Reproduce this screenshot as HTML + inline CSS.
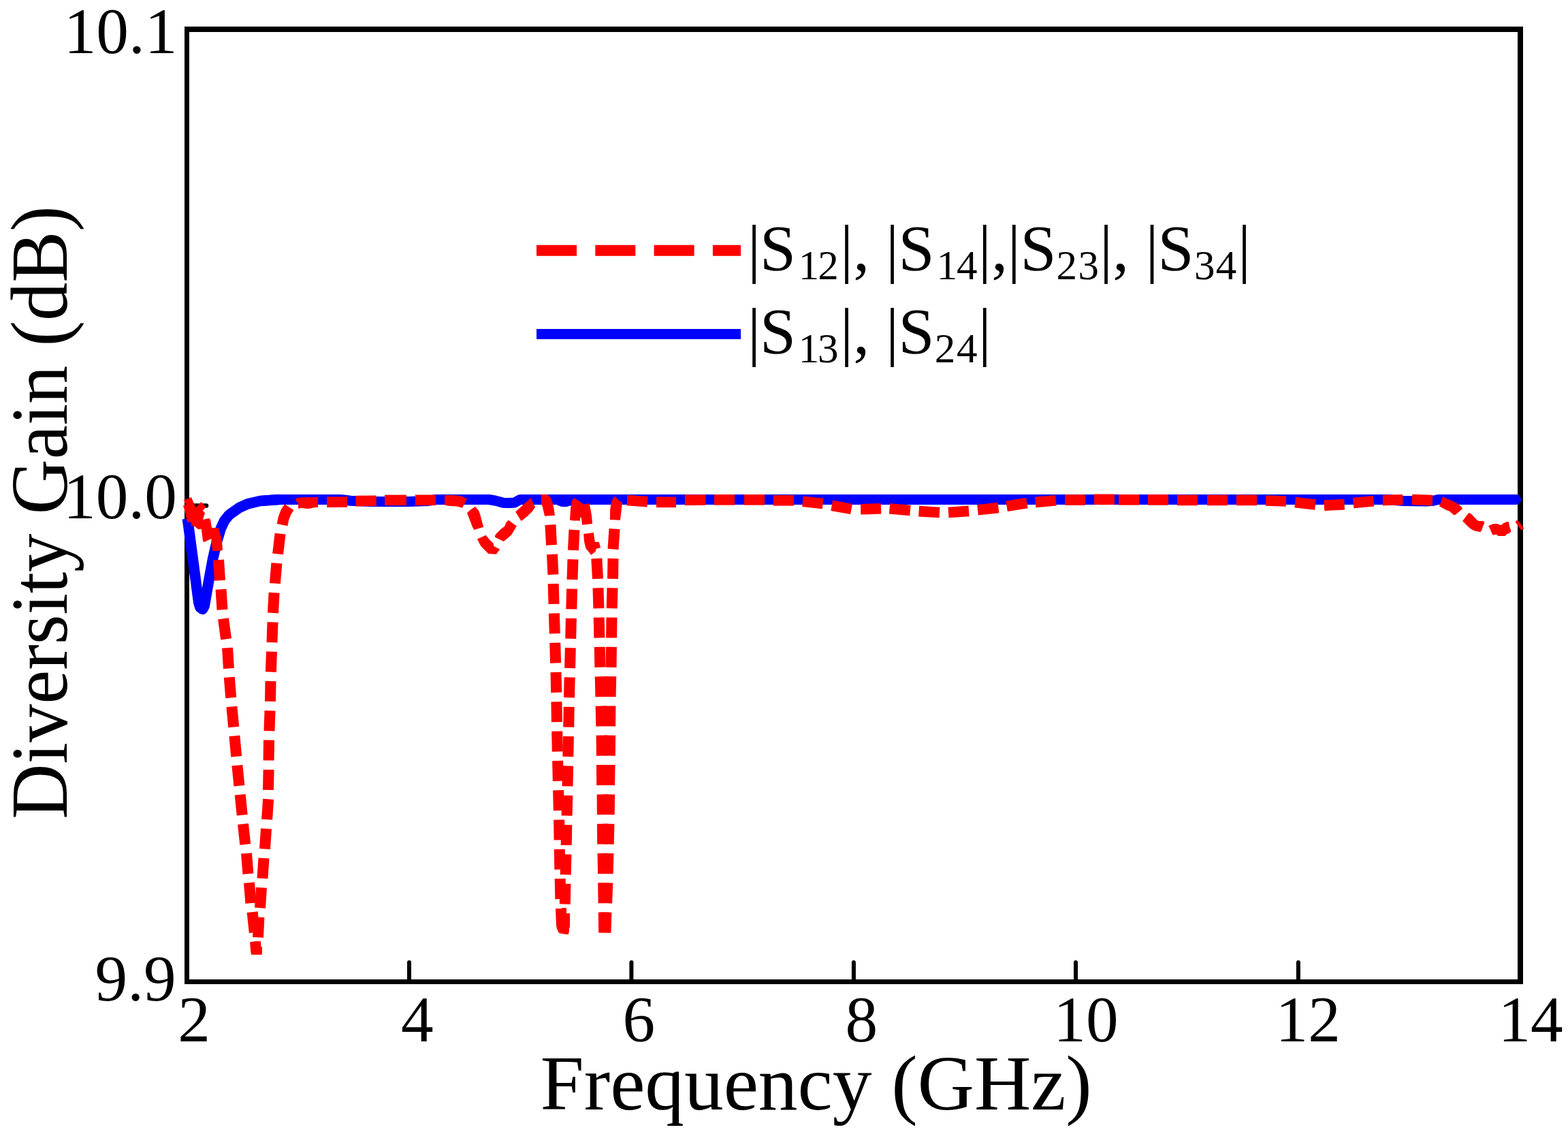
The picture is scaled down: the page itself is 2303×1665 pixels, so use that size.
<!DOCTYPE html>
<html lang="en"><head><meta charset="utf-8"><title>Diversity Gain vs Frequency</title>
<style>html,body{margin:0;padding:0;background:#fff;}body{width:2303px;height:1665px;overflow:hidden;}svg{display:block;}text{font-family:"Liberation Serif","DejaVu Serif",serif;fill:#000;}</style>
</head><body>
<svg width="2303" height="1665" viewBox="0 0 2303 1665">
<rect x="0" y="0" width="2303" height="1665" fill="#ffffff"/>
<g fill="#000" shape-rendering="crispEdges">
<rect x="271" y="39" width="7" height="1406"/>
<rect x="2229" y="39" width="8" height="1406"/>
<rect x="271" y="39" width="1966" height="8"/>
<rect x="271" y="1438" width="1966" height="7"/>
</g>
<g stroke="#000" stroke-width="6" stroke-linecap="round" fill="none">
<line x1="601" y1="1440" x2="601" y2="1413"/>
<line x1="927.4" y1="1440" x2="927.4" y2="1413"/>
<line x1="1253.9" y1="1440" x2="1253.9" y2="1413"/>
<line x1="1580" y1="1440" x2="1580" y2="1413"/>
<line x1="1906.9" y1="1440" x2="1906.9" y2="1413"/>
<line x1="275" y1="742.5" x2="303" y2="742.5" stroke-width="6.5"/>
</g>
<text x="93.70" y="77.80" font-size="95.3">10.1</text>
<text x="93.10" y="760.60" font-size="95.3">10.0</text>
<text x="139.60" y="1468.80" font-size="95.3">9.9</text>
<text x="261.30" y="1528.90" font-size="95.3">2</text>
<text x="589.10" y="1528.90" font-size="95.3">4</text>
<text x="914.40" y="1528.90" font-size="95.3">6</text>
<text x="1241.60" y="1528.90" font-size="95.3">8</text>
<text x="1547.30" y="1528.90" font-size="95.3">10</text>
<text x="1873.60" y="1528.90" font-size="95.3">12</text>
<text x="2200.40" y="1528.90" font-size="95.3">14</text>
<text transform="translate(793.6 1628.9) scale(1.0074 1)" font-size="114.5">Frequency (GHz)</text>
<text transform="translate(98.1 1202.70) rotate(-90) scale(0.9430 1)" font-size="119.4">Diversity Gain (dB)</text>
<g fill="none" stroke-linecap="butt">
<line x1="788" y1="367.8" x2="1088" y2="367.8" stroke="#ff0000" stroke-width="16" stroke-dasharray="59 27.3"/>
<line x1="788" y1="490.4" x2="1088" y2="490.4" stroke="#0000ff" stroke-width="15"/>
</g>
<text xml:space="preserve"><tspan x="1098.03" y="397.00" font-size="95.3">|</tspan><tspan x="1116.12" y="397.00" font-size="95.3">S</tspan><tspan x="1172.64" y="410.00" font-size="61.0">1</tspan><tspan x="1201.32" y="410.00" font-size="61.0">2</tspan><tspan x="1234.03" y="397.00" font-size="95.3">|</tspan><tspan x="1253.17" y="397.00" font-size="95.3">, </tspan><tspan x="1300.93" y="397.00" font-size="95.3">|</tspan><tspan x="1319.62" y="397.00" font-size="95.3">S</tspan><tspan x="1375.64" y="410.00" font-size="61.0">1</tspan><tspan x="1405.01" y="410.00" font-size="61.0">4</tspan><tspan x="1436.83" y="397.00" font-size="95.3">|</tspan><tspan x="1456.37" y="397.00" font-size="95.3">,</tspan><tspan x="1479.83" y="397.00" font-size="95.3">|</tspan><tspan x="1498.62" y="397.00" font-size="95.3">S</tspan><tspan x="1551.62" y="410.00" font-size="61.0">2</tspan><tspan x="1583.48" y="410.00" font-size="61.0">3</tspan><tspan x="1615.03" y="397.00" font-size="95.3">|</tspan><tspan x="1634.17" y="397.00" font-size="95.3">, </tspan><tspan x="1682.43" y="397.00" font-size="95.3">|</tspan><tspan x="1700.62" y="397.00" font-size="95.3">S</tspan><tspan x="1753.88" y="410.00" font-size="61.0">3</tspan><tspan x="1785.81" y="410.00" font-size="61.0">4</tspan><tspan x="1818.03" y="397.00" font-size="95.3">|</tspan></text>
<text xml:space="preserve"><tspan x="1098.03" y="519.00" font-size="95.3">|</tspan><tspan x="1116.12" y="519.00" font-size="95.3">S</tspan><tspan x="1172.64" y="532.00" font-size="61.0">1</tspan><tspan x="1201.08" y="532.00" font-size="61.0">3</tspan><tspan x="1234.03" y="519.00" font-size="95.3">|</tspan><tspan x="1253.17" y="519.00" font-size="95.3">, </tspan><tspan x="1300.93" y="519.00" font-size="95.3">|</tspan><tspan x="1319.62" y="519.00" font-size="95.3">S</tspan><tspan x="1372.82" y="532.00" font-size="61.0">2</tspan><tspan x="1405.01" y="532.00" font-size="61.0">4</tspan><tspan x="1436.83" y="519.00" font-size="95.3">|</tspan></text>
<g id="blue-curve">
<path d="M275.4 761.5 L291.8 885.0 L294.0 892.0 L297.5 894.5 L300.2 889.5 L301.0 885.0 L306.6 853.0 L312.8 819.7 L318.3 796.0 L324.2 776.2 L329.4 764.9 L336.2 756.3 L343.0 751.3 L351.5 745.4 L363.7 739.9 L382.0 735.5 L410.0 733.5" fill="none" stroke="#0000ff" stroke-width="15.6" stroke-linejoin="round" stroke-linecap="butt"/>
<path d="M382.0 735.5 L410.0 733.5 L500.0 733.5 L515.0 735.2 L545.0 736.4 L600.0 736.6 L628.0 735.5 L640.0 733.5 L718.0 733.5 L727.0 735.0 L733.0 736.5 L739.0 738.2 L748.0 738.6 L756.0 738.0 L760.0 735.5 L764.0 733.5 L2040.0 733.5 L2050.0 734.6 L2060.0 735.6 L2095.0 735.9 L2105.0 735.2" fill="none" stroke="#0000ff" stroke-width="15.0" stroke-linejoin="round" stroke-linecap="butt"/>
<path d="M2105.0 735.2 L2112.0 733.5 L2226.5 733.5" fill="none" stroke="#0000ff" stroke-width="15.0" stroke-linejoin="round" stroke-linecap="round"/>
<polygon fill="#0000ff" points="816.0,740.0 818.5,741.6 820.5,742.6 825.0,743.9 833.0,743.9 836.0,742.7 839.0,742.2 841.0,740.0"/>
</g>
<g id="red-curve" fill="#ff0000">
<polygon fill="#ff0000" points="269.9,734.5 280.9,729.9 287.6,745.2 295.5,737.0 302.9,744.3 297.7,749.8 301.0,753.1 298.6,760.7 298.0,762.9 302.2,762.0 307.4,761.0 309.0,763.2 311.1,775.1 320.8,775.1 323.0,782.1 326.0,794.3 326.9,807.7 323.0,808.9 312.0,808.9 310.2,790.9 299.8,796.1 298.0,794.3 295.8,776.6 291.3,777.2 284.6,772.0 280.9,772.0 280.9,767.1 275.1,767.1 273.9,760.7 271.1,749.1 269.0,742.4 273.0,740.9"/>
<path d="M321.0 822.1 L323.0 852.2" fill="none" stroke="#ff0000" stroke-width="16.0" stroke-linecap="butt"/>
<path d="M324.5 865.2 L326.5 895.3" fill="none" stroke="#ff0000" stroke-width="16.0" stroke-linecap="butt"/>
<path d="M328.0 908.3 L332.1 938.4" fill="none" stroke="#ff0000" stroke-width="16.0" stroke-linecap="butt"/>
<path d="M334.0 951.3 L335.9 981.4" fill="none" stroke="#ff0000" stroke-width="16.0" stroke-linecap="butt"/>
<path d="M336.8 994.4 L339.2 1024.5" fill="none" stroke="#ff0000" stroke-width="16.0" stroke-linecap="butt"/>
<path d="M340.4 1037.5 L343.2 1067.6" fill="none" stroke="#ff0000" stroke-width="16.0" stroke-linecap="butt"/>
<path d="M344.4 1080.6 L347.2 1110.7" fill="none" stroke="#ff0000" stroke-width="16.0" stroke-linecap="butt"/>
<path d="M348.4 1123.7 L351.4 1153.8" fill="none" stroke="#ff0000" stroke-width="16.0" stroke-linecap="butt"/>
<path d="M352.7 1166.7 L355.7 1196.8" fill="none" stroke="#ff0000" stroke-width="16.0" stroke-linecap="butt"/>
<path d="M357.0 1209.8 L360.3 1239.9" fill="none" stroke="#ff0000" stroke-width="16.0" stroke-linecap="butt"/>
<path d="M362.0 1252.9 L364.4 1283.0" fill="none" stroke="#ff0000" stroke-width="16.0" stroke-linecap="butt"/>
<path d="M366.0 1296.0 L368.4 1326.1" fill="none" stroke="#ff0000" stroke-width="16.0" stroke-linecap="butt"/>
<path d="M370.6 1339.1 L373.8 1369.2" fill="none" stroke="#ff0000" stroke-width="16.0" stroke-linecap="butt"/>
<path d="M380.4 1346.6 L379.0 1376.4" fill="none" stroke="#ff0000" stroke-width="16.0" stroke-linecap="butt"/>
<path d="M384.0 1303.3 L382.0 1333.1" fill="none" stroke="#ff0000" stroke-width="16.0" stroke-linecap="butt"/>
<path d="M387.5 1260.0 L385.5 1289.8" fill="none" stroke="#ff0000" stroke-width="16.0" stroke-linecap="butt"/>
<path d="M391.0 1216.7 L389.0 1246.5" fill="none" stroke="#ff0000" stroke-width="16.0" stroke-linecap="butt"/>
<path d="M394.1 1173.4 L392.1 1203.2" fill="none" stroke="#ff0000" stroke-width="16.0" stroke-linecap="butt"/>
<path d="M394.6 1130.1 L394.0 1159.9" fill="none" stroke="#ff0000" stroke-width="16.0" stroke-linecap="butt"/>
<path d="M395.0 1086.7 L394.6 1116.5" fill="none" stroke="#ff0000" stroke-width="16.0" stroke-linecap="butt"/>
<path d="M396.5 1043.4 L395.5 1073.2" fill="none" stroke="#ff0000" stroke-width="16.0" stroke-linecap="butt"/>
<path d="M397.5 1000.1 L397.0 1029.9" fill="none" stroke="#ff0000" stroke-width="16.0" stroke-linecap="butt"/>
<path d="M399.0 956.8 L397.9 986.6" fill="none" stroke="#ff0000" stroke-width="16.0" stroke-linecap="butt"/>
<path d="M400.5 913.5 L399.5 943.3" fill="none" stroke="#ff0000" stroke-width="16.0" stroke-linecap="butt"/>
<path d="M402.6 870.2 L401.0 900.0" fill="none" stroke="#ff0000" stroke-width="16.0" stroke-linecap="butt"/>
<path d="M406.4 826.9 L403.9 856.7" fill="none" stroke="#ff0000" stroke-width="16.0" stroke-linecap="butt"/>
<path d="M411.6 783.6 L408.1 813.4" fill="none" stroke="#ff0000" stroke-width="16.0" stroke-linecap="butt"/>
<polygon fill="#ff0000" points="367.1,1383.2 375.1,1382.1 383.1,1382.1 383.1,1389.9 384.9,1390.1 384.9,1400.8 383.9,1401.8 369.1,1401.8 368.1,1396.6"/>
<path d="M414.5 770.6 L416.5 761.0 L420.0 752.0 L424.8 744.7" fill="none" stroke="#ff0000" stroke-width="16.0" stroke-linejoin="round" stroke-linecap="butt"/>
<polygon fill="#ff0000" points="434.0,732.3 436.0,731.3 443.3,730.2 453.7,730.2 467.1,729.7 467.1,744.7 460.9,745.2 454.7,746.8 448.5,746.8 443.3,745.8 438.1,746.8 438.1,739.0 435.0,735.9"/>
<path d="M480.1 737.2 L509.9 737.0" fill="none" stroke="#ff0000" stroke-width="15.6" stroke-linecap="butt"/>
<path d="M522.5 735.6 L552.7 735.3" fill="none" stroke="#ff0000" stroke-width="15.6" stroke-linecap="butt"/>
<path d="M565.1 734.4 L596.9 734.4" fill="none" stroke="#ff0000" stroke-width="15.6" stroke-linecap="butt"/>
<path d="M609.9 734.3 L640.0 734.3" fill="none" stroke="#ff0000" stroke-width="15.6" stroke-linecap="butt"/>
<polygon fill="#ff0000" points="653.1,727.1 666.2,727.1 675.7,727.9 679.6,729.3 686.1,732.3 683.2,738.0 678.8,745.8 674.9,744.4 670.9,743.4 658.2,742.8 653.1,741.6"/>
<polygon fill="#ff0000" points="686.0,752.9 691.5,748.3 697.9,743.8 703.0,749.5 705.0,754.7 710.1,773.7 696.3,777.9 693.9,773.7"/>
<polygon fill="#ff0000" points="700.9,791.4 713.7,785.8 719.3,792.7 725.0,798.3 725.0,801.8 734.2,806.6 728.8,813.7 717.3,812.9 706.2,801.8"/>
<polygon fill="#ff0000" points="727.0,786.4 729.6,782.8 736.7,776.1 741.0,772.9 743.8,766.6 747.0,763.8 758.9,772.5 751.0,785.6 739.9,794.9 727.0,788.8"/>
<polygon fill="#ff0000" points="757.1,751.4 779.5,731.1 786.0,744.4 781.9,750.7 773.9,758.6 765.6,765.0"/>
<polygon fill="#ff0000" points="794.9,726.0 803.1,726.0 806.9,728.4 809.5,732.2 811.2,737.3 812.9,744.2 814.2,751.0 815.0,756.8 800.1,757.8 798.4,751.0 796.6,743.3 794.9,740.3"/>
<path d="M808.4 770.5 L810.0 800.3" fill="none" stroke="#ff0000" stroke-width="16.0" stroke-linecap="butt"/>
<path d="M811.0 813.8 L812.4 843.6" fill="none" stroke="#ff0000" stroke-width="16.0" stroke-linecap="butt"/>
<path d="M812.7 857.1 L813.5 886.9" fill="none" stroke="#ff0000" stroke-width="16.0" stroke-linecap="butt"/>
<path d="M813.9 900.4 L814.8 930.2" fill="none" stroke="#ff0000" stroke-width="16.0" stroke-linecap="butt"/>
<path d="M815.2 943.7 L816.1 973.5" fill="none" stroke="#ff0000" stroke-width="16.0" stroke-linecap="butt"/>
<path d="M816.5 987.0 L817.2 1016.8" fill="none" stroke="#ff0000" stroke-width="16.0" stroke-linecap="butt"/>
<path d="M817.4 1030.4 L817.9 1060.2" fill="none" stroke="#ff0000" stroke-width="16.0" stroke-linecap="butt"/>
<path d="M818.2 1073.7 L818.8 1103.5" fill="none" stroke="#ff0000" stroke-width="16.0" stroke-linecap="butt"/>
<path d="M819.1 1117.0 L819.8 1146.8" fill="none" stroke="#ff0000" stroke-width="16.0" stroke-linecap="butt"/>
<path d="M820.1 1160.3 L820.8 1190.1" fill="none" stroke="#ff0000" stroke-width="16.0" stroke-linecap="butt"/>
<path d="M821.1 1203.6 L821.6 1233.4" fill="none" stroke="#ff0000" stroke-width="16.0" stroke-linecap="butt"/>
<path d="M821.8 1246.9 L822.3 1276.7" fill="none" stroke="#ff0000" stroke-width="16.0" stroke-linecap="butt"/>
<path d="M822.7 1290.2 L823.3 1320.0" fill="none" stroke="#ff0000" stroke-width="16.0" stroke-linecap="butt"/>
<path d="M843.5 778.0 L842.0 807.8" fill="none" stroke="#ff0000" stroke-width="16.0" stroke-linecap="butt"/>
<path d="M841.5 821.3 L840.5 851.1" fill="none" stroke="#ff0000" stroke-width="16.0" stroke-linecap="butt"/>
<path d="M840.1 864.6 L839.3 894.4" fill="none" stroke="#ff0000" stroke-width="16.0" stroke-linecap="butt"/>
<path d="M838.9 907.9 L838.2 937.7" fill="none" stroke="#ff0000" stroke-width="16.0" stroke-linecap="butt"/>
<path d="M837.8 951.2 L837.1 981.0" fill="none" stroke="#ff0000" stroke-width="16.0" stroke-linecap="butt"/>
<path d="M836.7 994.5 L836.0 1024.3" fill="none" stroke="#ff0000" stroke-width="16.0" stroke-linecap="butt"/>
<path d="M835.7 1037.9 L835.2 1067.7" fill="none" stroke="#ff0000" stroke-width="16.0" stroke-linecap="butt"/>
<path d="M834.9 1081.2 L834.3 1111.0" fill="none" stroke="#ff0000" stroke-width="16.0" stroke-linecap="butt"/>
<path d="M834.1 1124.5 L833.5 1154.3" fill="none" stroke="#ff0000" stroke-width="16.0" stroke-linecap="butt"/>
<path d="M833.2 1167.8 L832.6 1197.6" fill="none" stroke="#ff0000" stroke-width="16.0" stroke-linecap="butt"/>
<path d="M832.3 1211.1 L831.7 1240.9" fill="none" stroke="#ff0000" stroke-width="16.0" stroke-linecap="butt"/>
<path d="M831.4 1254.4 L830.7 1284.2" fill="none" stroke="#ff0000" stroke-width="16.0" stroke-linecap="butt"/>
<path d="M830.4 1297.7 L829.8 1327.5" fill="none" stroke="#ff0000" stroke-width="16.0" stroke-linecap="butt"/>
<polygon fill="#ff0000" points="816.0,1334.0 825.0,1334.0 825.0,1333.0 832.0,1333.0 832.0,1341.0 837.0,1341.0 837.0,1361.5 836.0,1362.0 835.9,1367.0 835.0,1371.8 831.0,1371.8 826.2,1370.9 821.2,1369.9 820.0,1367.9 818.0,1363.9 817.0,1358.8"/>
<polygon fill="#ff0000" points="837.0,763.8 838.1,745.9 840.2,734.8 843.6,730.9 856.0,739.5 856.8,740.7 865.4,739.0 867.1,746.7 868.8,755.2 870.1,768.9 855.1,770.8 853.8,759.9 852.1,759.9 852.1,764.6 843.2,764.6"/>
<polygon fill="#ff0000" points="857.1,784.1 871.8,782.1 873.9,795.8 879.9,795.8 882.0,803.9 875.6,806.0 874.8,809.5 868.4,815.0 860.3,804.8 858.1,795.4"/>
<path d="M876.3 820.0 L878.0 849.9" fill="none" stroke="#ff0000" stroke-width="16.0" stroke-linecap="butt"/>
<path d="M878.5 863.3 L879.4 893.2" fill="none" stroke="#ff0000" stroke-width="16.0" stroke-linecap="butt"/>
<path d="M879.7 906.6 L880.4 936.5" fill="none" stroke="#ff0000" stroke-width="16.0" stroke-linecap="butt"/>
<path d="M880.7 949.9 L881.4 979.8" fill="none" stroke="#ff0000" stroke-width="16.0" stroke-linecap="butt"/>
<path d="M881.7 993.2 L882.4 1023.1" fill="none" stroke="#ff0000" stroke-width="16.0" stroke-linecap="butt"/>
<path d="M882.6 1036.5 L883.3 1066.4" fill="none" stroke="#ff0000" stroke-width="16.0" stroke-linecap="butt"/>
<path d="M883.6 1079.7 L883.9 1109.6" fill="none" stroke="#ff0000" stroke-width="16.0" stroke-linecap="butt"/>
<path d="M883.9 1123.0 L884.2 1152.9" fill="none" stroke="#ff0000" stroke-width="16.0" stroke-linecap="butt"/>
<path d="M884.6 1166.3 L884.9 1196.2" fill="none" stroke="#ff0000" stroke-width="16.0" stroke-linecap="butt"/>
<path d="M884.9 1209.6 L885.2 1239.5" fill="none" stroke="#ff0000" stroke-width="16.0" stroke-linecap="butt"/>
<path d="M885.5 1252.9 L886.1 1282.8" fill="none" stroke="#ff0000" stroke-width="16.0" stroke-linecap="butt"/>
<path d="M886.2 1296.2 L886.6 1326.1" fill="none" stroke="#ff0000" stroke-width="16.0" stroke-linecap="butt"/>
<path d="M886.8 1339.5 L887.2 1369.4" fill="none" stroke="#ff0000" stroke-width="16.0" stroke-linecap="butt"/>
<path d="M902.5 776.5 L900.5 806.4" fill="none" stroke="#ff0000" stroke-width="16.0" stroke-linecap="butt"/>
<path d="M900.5 820.0 L900.0 849.9" fill="none" stroke="#ff0000" stroke-width="16.0" stroke-linecap="butt"/>
<path d="M899.5 863.3 L898.7 893.2" fill="none" stroke="#ff0000" stroke-width="16.0" stroke-linecap="butt"/>
<path d="M898.5 906.6 L898.1 936.5" fill="none" stroke="#ff0000" stroke-width="16.0" stroke-linecap="butt"/>
<path d="M897.9 949.9 L897.5 979.8" fill="none" stroke="#ff0000" stroke-width="16.0" stroke-linecap="butt"/>
<path d="M897.2 993.2 L896.6 1023.1" fill="none" stroke="#ff0000" stroke-width="16.0" stroke-linecap="butt"/>
<path d="M896.4 1036.5 L896.1 1066.4" fill="none" stroke="#ff0000" stroke-width="16.0" stroke-linecap="butt"/>
<path d="M896.1 1079.7 L895.8 1109.6" fill="none" stroke="#ff0000" stroke-width="16.0" stroke-linecap="butt"/>
<path d="M895.5 1123.0 L895.1 1152.9" fill="none" stroke="#ff0000" stroke-width="16.0" stroke-linecap="butt"/>
<path d="M895.1 1166.3 L894.7 1196.2" fill="none" stroke="#ff0000" stroke-width="16.0" stroke-linecap="butt"/>
<path d="M894.4 1209.6 L893.7 1239.5" fill="none" stroke="#ff0000" stroke-width="16.0" stroke-linecap="butt"/>
<path d="M893.4 1252.9 L892.6 1282.8" fill="none" stroke="#ff0000" stroke-width="16.0" stroke-linecap="butt"/>
<path d="M892.3 1296.2 L891.1 1326.1" fill="none" stroke="#ff0000" stroke-width="16.0" stroke-linecap="butt"/>
<path d="M890.4 1339.5 L889.4 1369.4" fill="none" stroke="#ff0000" stroke-width="16.0" stroke-linecap="butt"/>
<polygon fill="#ff0000" points="895.9,762.9 896.1,749.3 897.4,739.0 899.5,733.1 902.9,728.8 909.8,735.6 914.0,737.3 911.9,756.1 910.9,763.8"/>
<path d="M921.0 734.5 L951.0 736.7" fill="none" stroke="#ff0000" stroke-width="15.6" stroke-linecap="butt"/>
<path d="M964.0 737.3 L993.0 737.3" fill="none" stroke="#ff0000" stroke-width="15.6" stroke-linecap="butt"/>
<path d="M1005.9 734.2 L1036.4 734.0" fill="none" stroke="#ff0000" stroke-width="15.6" stroke-linecap="butt"/>
<path d="M1049.0 733.8 L1079.0 733.8" fill="none" stroke="#ff0000" stroke-width="15.6" stroke-linecap="butt"/>
<path d="M1093.0 733.8 L1123.0 733.8" fill="none" stroke="#ff0000" stroke-width="15.6" stroke-linecap="butt"/>
<path d="M1135.8 734.8 L1165.9 734.8" fill="none" stroke="#ff0000" stroke-width="15.6" stroke-linecap="butt"/>
<path d="M1179.0 736.3 L1208.6 739.6" fill="none" stroke="#ff0000" stroke-width="15.6" stroke-linecap="butt"/>
<path d="M1221.7 742.3 L1250.5 747.4" fill="none" stroke="#ff0000" stroke-width="15.6" stroke-linecap="butt"/>
<path d="M1264.1 747.8 L1294.0 746.8" fill="none" stroke="#ff0000" stroke-width="15.6" stroke-linecap="butt"/>
<path d="M1306.5 746.7 L1336.9 749.5" fill="none" stroke="#ff0000" stroke-width="15.6" stroke-linecap="butt"/>
<path d="M1349.6 750.6 L1380.0 752.5" fill="none" stroke="#ff0000" stroke-width="15.6" stroke-linecap="butt"/>
<path d="M1393.0 752.5 L1423.0 750.4" fill="none" stroke="#ff0000" stroke-width="15.6" stroke-linecap="butt"/>
<path d="M1436.0 748.8 L1466.5 745.4" fill="none" stroke="#ff0000" stroke-width="15.6" stroke-linecap="butt"/>
<path d="M1478.6 743.3 L1508.4 738.5" fill="none" stroke="#ff0000" stroke-width="15.6" stroke-linecap="butt"/>
<path d="M1520.7 737.4 L1550.9 734.7" fill="none" stroke="#ff0000" stroke-width="15.6" stroke-linecap="butt"/>
<path d="M1564.1 734.0 L1594.1 734.0" fill="none" stroke="#ff0000" stroke-width="15.6" stroke-linecap="butt"/>
<path d="M1607.0 733.3 L1636.9 733.3" fill="none" stroke="#ff0000" stroke-width="15.6" stroke-linecap="butt"/>
<path d="M1643.0 733.8 L1673.1 733.8" fill="none" stroke="#ff0000" stroke-width="15.6" stroke-linecap="butt"/>
<path d="M1685.9 733.9 L1716.0 733.9" fill="none" stroke="#ff0000" stroke-width="15.6" stroke-linecap="butt"/>
<path d="M1729.0 734.4 L1759.0 734.4" fill="none" stroke="#ff0000" stroke-width="15.6" stroke-linecap="butt"/>
<path d="M1773.0 734.4 L1803.0 734.4" fill="none" stroke="#ff0000" stroke-width="15.6" stroke-linecap="butt"/>
<path d="M1815.8 734.4 L1846.0 734.4" fill="none" stroke="#ff0000" stroke-width="15.6" stroke-linecap="butt"/>
<path d="M1859.0 735.0 L1888.9 736.0" fill="none" stroke="#ff0000" stroke-width="15.6" stroke-linecap="butt"/>
<path d="M1902.2 737.5 L1932.0 740.9" fill="none" stroke="#ff0000" stroke-width="15.6" stroke-linecap="butt"/>
<path d="M1944.9 742.1 L1974.6 740.6" fill="none" stroke="#ff0000" stroke-width="15.6" stroke-linecap="butt"/>
<path d="M1987.7 738.6 L2017.5 735.7" fill="none" stroke="#ff0000" stroke-width="15.6" stroke-linecap="butt"/>
<path d="M2031.0 734.6 L2060.4 733.7" fill="none" stroke="#ff0000" stroke-width="15.6" stroke-linecap="butt"/>
<path d="M2074.0 733.5 L2104.0 734.6" fill="none" stroke="#ff0000" stroke-width="15.6" stroke-linecap="butt"/>
<polygon fill="#ff0000" points="2119.3,729.1 2123.9,731.4 2138.7,738.1 2142.6,740.9 2146.4,744.1 2148.0,746.9 2142.2,751.9 2137.6,755.9 2135.1,755.9 2129.5,751.1 2122.5,748.0 2114.0,743.2 2116.1,737.4"/>
<polygon fill="#ff0000" points="2148.0,765.6 2150.0,762.4 2153.5,757.8 2157.4,752.9 2160.5,754.2 2169.7,763.8 2172.2,764.9 2178.2,764.9 2180.2,766.3 2179.9,769.1 2177.8,773.4 2175.7,780.1 2173.6,781.0 2167.2,779.7 2164.1,778.7 2159.1,775.8 2153.5,770.5 2150.0,766.7"/>
<polygon fill="#ff0000" points="2186.1,772.3 2190.2,770.2 2194.4,769.0 2199.7,769.0 2200.1,769.8 2205.0,770.9 2208.5,768.1 2213.5,766.0 2215.9,766.0 2217.0,772.7 2219.0,778.3 2219.0,781.1 2216.3,783.2 2213.1,784.3 2210.6,786.9 2200.1,786.9 2198.6,785.0 2194.4,785.0 2193.4,786.1 2191.6,784.0 2188.1,775.8"/>
<polygon fill="#ff0000" points="2226.0,765.6 2227.6,764.1 2229.3,764.1 2231.1,766.3 2234.6,770.5 2237.9,775.1 2237.9,776.5 2235.3,778.0 2233.9,778.0 2230.4,773.0 2226.2,767.4"/>
</g>
</svg>
</body></html>
